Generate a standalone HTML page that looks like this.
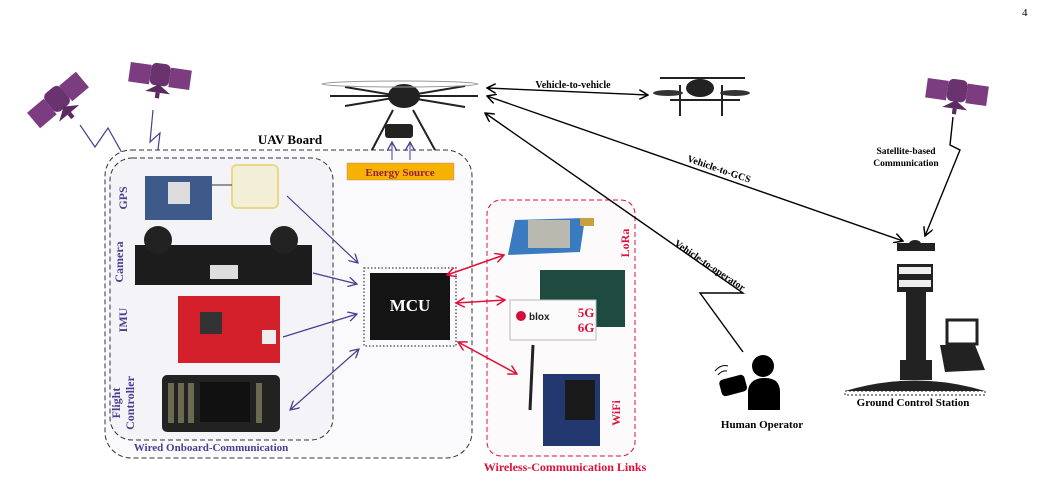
<!DOCTYPE html>
<html><head><meta charset="utf-8"><style>
html,body{margin:0;padding:0;background:#fff;}
svg{display:block;font-family:"Liberation Serif",serif;font-weight:bold;}
</style></head><body>
<svg width="1048" height="484" viewBox="0 0 1048 484" xmlns="http://www.w3.org/2000/svg">
<defs>
<marker id="ab" markerWidth="10" markerHeight="10" refX="9" refY="5" orient="auto-start-reverse" markerUnits="userSpaceOnUse"><path d="M0,0 L9,5 L0,10" fill="none" stroke="#000" stroke-width="1.5"/></marker>
<marker id="ap" markerWidth="10" markerHeight="10" refX="9" refY="5" orient="auto-start-reverse" markerUnits="userSpaceOnUse"><path d="M0,0 L9,5 L0,10" fill="none" stroke="#4b3d8f" stroke-width="1.3"/></marker>
<marker id="ar" markerWidth="10" markerHeight="10" refX="9" refY="5" orient="auto-start-reverse" markerUnits="userSpaceOnUse"><path d="M0,0 L9,5 L0,10" fill="none" stroke="#e0103a" stroke-width="1.5"/></marker>
<g id="sat"><rect x="-22" y="-7" width="15" height="14" fill="#7c3c80"/><rect x="7" y="-7" width="15" height="14" fill="#7c3c80"/><rect x="-7" y="-9" width="14" height="16" rx="4" fill="#6a3370"/><path d="M-9,12 L9,12 L0,6Z" fill="#5a2b60"/><rect x="-1.5" y="12" width="3" height="4" fill="#5a2b60"/></g>
</defs>
<text x="1022" y="16" font-size="11" font-weight="normal">4</text>

<!-- satellites -->
<use href="#sat" transform="translate(58,100) rotate(-40) scale(1.45)"/>
<use href="#sat" transform="translate(160,76) rotate(8) scale(1.4)"/>
<use href="#sat" transform="translate(957,92) rotate(8) scale(1.4)"/>
<polyline points="80,125 95,147 108,128 140,185" fill="none" stroke="#4b3d8f" stroke-width="1.2" marker-end="url(#ap)"/>
<polyline points="153,110 150,142 160,133 155,175" fill="none" stroke="#4b3d8f" stroke-width="1.2" marker-end="url(#ap)"/>

<!-- UAV board -->
<rect x="105" y="150" width="367" height="308" rx="26" fill="#fafafc" stroke="#333" stroke-width="1" stroke-dasharray="5,3"/>
<text x="290" y="144" font-size="13" text-anchor="middle">UAV Board</text>
<rect x="110" y="158" width="223" height="282" rx="22" fill="#f4f4f8" stroke="#333" stroke-width="1" stroke-dasharray="5,3"/>
<text x="211" y="451" font-size="11" text-anchor="middle" fill="#4b3d8f">Wired Onboard-Communication</text>

<!-- big drone -->
<g stroke="#222" fill="none" stroke-width="2">
<line x1="330" y1="96" x2="478" y2="96"/><line x1="345" y1="87" x2="465" y2="107"/><line x1="345" y1="106" x2="465" y2="86"/>
<line x1="393" y1="110" x2="372" y2="150"/><line x1="413" y1="110" x2="435" y2="150"/>
</g>
<ellipse cx="404" cy="96" rx="16" ry="12" fill="#222"/><rect x="385" y="124" width="28" height="14" rx="3" fill="#222"/>
<ellipse cx="400" cy="84" rx="78" ry="3" fill="none" stroke="#999" stroke-width="1"/>
<rect x="347" y="163" width="107" height="17" fill="#f5b300" stroke="#b88" stroke-width="0.5"/>
<text x="400" y="176" font-size="11" text-anchor="middle" fill="#9c1c3c">Energy Source</text>
<line x1="392" y1="160" x2="392" y2="142" stroke="#4b3d8f" stroke-width="1" marker-end="url(#ap)"/>
<line x1="410" y1="160" x2="410" y2="142" stroke="#4b3d8f" stroke-width="1" marker-end="url(#ap)"/>

<!-- small drone -->
<g stroke="#222" stroke-width="2" fill="none"><line x1="660" y1="78" x2="745" y2="78"/><line x1="670" y1="100" x2="740" y2="100"/><line x1="680" y1="85" x2="680" y2="116"/><line x1="722" y1="85" x2="722" y2="116"/></g>
<ellipse cx="700" cy="88" rx="14" ry="9" fill="#222"/>
<ellipse cx="668" cy="93" rx="15" ry="3" fill="#333"/><ellipse cx="735" cy="93" rx="15" ry="3" fill="#333"/>

<!-- GPS -->
<rect x="145" y="176" width="67" height="44" fill="#3d5a8a"/><rect x="168" y="182" width="22" height="22" fill="#ddd"/>
<rect x="232" y="165" width="46" height="43" rx="5" fill="#f3efd6" stroke="#e8d98a" stroke-width="2"/>
<line x1="212" y1="185" x2="232" y2="185" stroke="#333"/>
<text transform="translate(127,198) rotate(-90)" font-size="12" text-anchor="middle" fill="#4b3d8f">GPS</text>
<!-- camera -->
<rect x="135" y="245" width="177" height="40" fill="#1c1c1c"/>
<circle cx="158" cy="240" r="14" fill="#222"/><circle cx="284" cy="240" r="14" fill="#222"/>
<rect x="210" y="265" width="28" height="14" fill="#ddd"/>
<text transform="translate(123,262) rotate(-90)" font-size="12" text-anchor="middle" fill="#4b3d8f">Camera</text>
<!-- IMU -->
<rect x="178" y="296" width="102" height="67" fill="#d4202a"/><rect x="200" y="312" width="22" height="22" fill="#333"/><rect x="262" y="330" width="14" height="14" fill="#eee"/>
<text transform="translate(127,320) rotate(-90)" font-size="12" text-anchor="middle" fill="#4b3d8f">IMU</text>
<!-- FC -->
<rect x="162" y="375" width="118" height="57" rx="5" fill="#222"/><rect x="200" y="382" width="50" height="40" fill="#111"/>
<g fill="#6a6a50"><rect x="168" y="383" width="6" height="40"/><rect x="178" y="383" width="6" height="40"/><rect x="188" y="383" width="6" height="40"/><rect x="256" y="383" width="6" height="40"/></g>
<text transform="translate(120,403) rotate(-90)" font-size="12" text-anchor="middle" fill="#4b3d8f">Flight</text>
<text transform="translate(134,403) rotate(-90)" font-size="12" text-anchor="middle" fill="#4b3d8f">Controller</text>

<!-- MCU -->
<rect x="364" y="268" width="92" height="78" fill="none" stroke="#888" stroke-width="2" stroke-dasharray="1.5,2"/>
<rect x="370" y="273" width="80" height="67" fill="#141414"/>
<text x="410" y="311" font-size="17" text-anchor="middle" fill="#fff">MCU</text>
<g stroke="#4b3d8f" stroke-width="1.2" fill="none">
<line x1="287" y1="196" x2="358" y2="263" marker-end="url(#ap)"/>
<line x1="313" y1="273" x2="357" y2="284" marker-end="url(#ap)"/>
<line x1="283" y1="337" x2="357" y2="314" marker-end="url(#ap)"/>
<line x1="290" y1="410" x2="359" y2="349" marker-start="url(#ap)" marker-end="url(#ap)"/>
</g>

<!-- wireless -->
<rect x="487" y="200" width="148" height="256" rx="14" fill="#fcfafb" stroke="#e0103a" stroke-width="1" stroke-dasharray="5,3"/>
<text x="565" y="471" font-size="12" text-anchor="middle" fill="#e0103a">Wireless-Communication Links</text>
<path d="M515,220 L585,218 L580,252 L508,255Z" fill="#3a7ac0"/><rect x="528" y="220" width="42" height="28" fill="#b9b9b0"/><rect x="580" y="218" width="14" height="8" fill="#c9a040"/>
<rect x="540" y="270" width="85" height="57" fill="#1e4a40"/>
<rect x="510" y="300" width="86" height="40" fill="#fbfbfb" stroke="#bbb"/>
<circle cx="521" cy="316" r="5" fill="#d0103a"/><text x="529" y="320" font-size="10" font-family="Liberation Sans,sans-serif" fill="#222">blox</text>
<text x="586" y="317" font-size="13" text-anchor="middle" fill="#e0103a">5G</text><text x="586" y="332" font-size="13" text-anchor="middle" fill="#e0103a">6G</text>
<line x1="533" y1="345" x2="530" y2="410" stroke="#222" stroke-width="3"/>
<rect x="543" y="374" width="57" height="72" fill="#243870"/><rect x="565" y="380" width="30" height="40" fill="#1a1a1a"/>
<text transform="translate(629,243) rotate(-90)" font-size="12" text-anchor="middle" fill="#e0103a">LoRa</text>
<text transform="translate(620,413) rotate(-90)" font-size="12" text-anchor="middle" fill="#e0103a">WiFi</text>
<g stroke="#e0103a" stroke-width="1.5" fill="none">
<line x1="447" y1="275" x2="504" y2="255" marker-start="url(#ar)" marker-end="url(#ar)"/>
<line x1="456" y1="303" x2="505" y2="300" marker-start="url(#ar)" marker-end="url(#ar)"/>
<line x1="458" y1="342" x2="517" y2="374" marker-start="url(#ar)" marker-end="url(#ar)"/>
</g>

<!-- links -->
<g stroke="#000" stroke-width="1.4" fill="none">
<line x1="487" y1="88" x2="648" y2="95" marker-start="url(#ab)" marker-end="url(#ab)"/>
<line x1="487" y1="96" x2="903" y2="241" marker-start="url(#ab)" marker-end="url(#ab)"/>
<polyline points="485,113 743,293 700,293 743,352" marker-start="url(#ab)"/>
<polyline points="953,117 950,145 960,150 925,236" marker-end="url(#ab)"/>
</g>
<text x="573" y="88" font-size="10" text-anchor="middle">Vehicle-to-vehicle</text>
<text transform="translate(718,172) rotate(19)" font-size="10" text-anchor="middle">Vehicle-to-GCS</text>
<text transform="translate(708,268) rotate(34)" font-size="10" text-anchor="middle">Vehicle-to-operator</text>
<text x="906" y="154" font-size="9.5" text-anchor="middle">Satellite-based</text>
<text x="906" y="166" font-size="9.5" text-anchor="middle">Communication</text>

<!-- tower -->
<rect x="897" y="243" width="38" height="8" fill="#222"/><ellipse cx="915" cy="244" rx="6" ry="4" fill="#222"/>
<rect x="897" y="264" width="36" height="28" fill="#222"/>
<rect x="899" y="267" width="32" height="7" fill="#eee"/><rect x="899" y="280" width="32" height="7" fill="#eee"/>
<rect x="906" y="292" width="20" height="70" fill="#222"/>
<rect x="900" y="360" width="32" height="20" fill="#222"/>
<path d="M845,391 Q915,370 985,391Z" fill="#222"/>
<rect x="845" y="391" width="140" height="4" fill="#fff" stroke="#222" stroke-dasharray="2,2"/>
<path d="M940,345 L975,345 L985,370 L945,372Z" fill="#222"/><rect x="947" y="320" width="30" height="24" fill="none" stroke="#222" stroke-width="3"/>
<text x="913" y="406" font-size="11" text-anchor="middle">Ground Control Station</text>
<!-- operator -->
<circle cx="763" cy="366" r="11" fill="#000"/><path d="M748,410 L748,390 Q750,378 765,378 Q780,378 780,392 L780,410Z" fill="#000"/>
<rect x="720" y="377" width="26" height="17" rx="4" fill="#000" transform="rotate(-15 733 385)"/>
<path d="M718,375 q4,-5 9,-4 M715,371 q6,-7 13,-5" stroke="#000" fill="none"/>
<text x="762" y="428" font-size="11" text-anchor="middle">Human Operator</text>
</svg>
</body></html>
